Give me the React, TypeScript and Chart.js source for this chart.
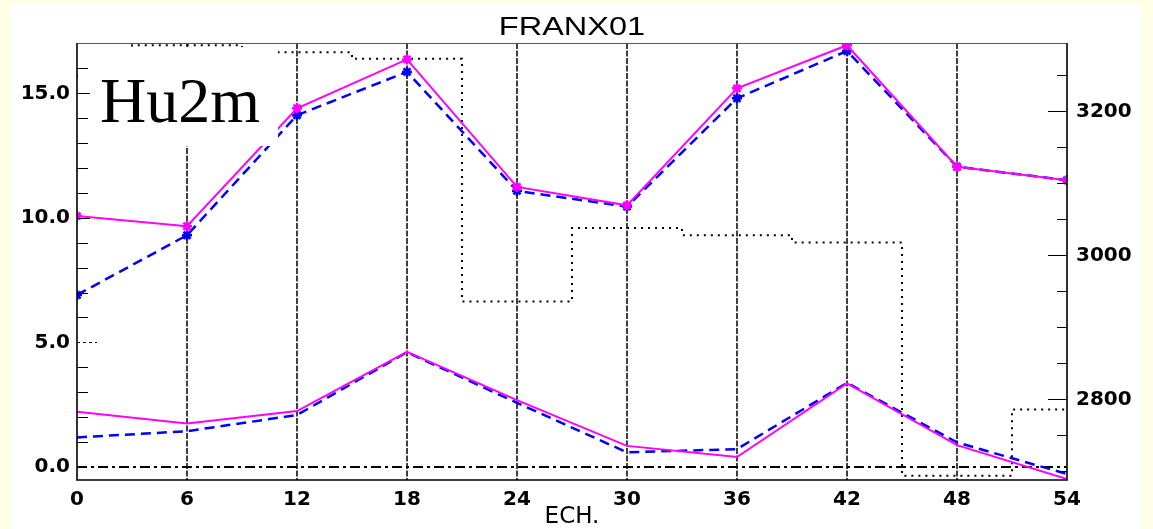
import React, { useEffect, useRef } from 'react';
import { Chart, registerables } from 'chart.js';
Chart.register(...registerables);

const TITLE = 'FRANX01';
const PARAM_LABEL = 'Hu2m';
const X_TITLE = 'ECH.';
const hours = [0, 6, 12, 18, 24, 30, 36, 42, 48, 54];
const upperMagenta = [10.07, 9.66, 14.4, 16.36, 11.24, 10.5, 15.2, 16.93, 12.05, 11.51];
const upperBlue = [6.9, 9.3, 14.12, 15.86, 11.08, 10.45, 14.8, 16.7, 12.05, 11.51];
const lowerMagenta = [2.21, 1.74, 2.24, 4.62, 2.68, 0.84, 0.39, 3.35, 0.87, -0.49];
const lowerBlue = [1.18, 1.43, 2.08, 4.6, 2.57, 0.58, 0.71, 3.37, 0.98, -0.29];
const altitude = [3250, 3292, 3282, 3273, 2936, 3038, 3028, 3018, 2694, 2786];
const leftMajor = [0, 5, 10, 15];
const rightMajor = [2800, 3000, 3200];

const MAGENTA = '#ff00ff';
const BLUE = '#0000ff';
const TICK_FONT = { family: '"DejaVu Sans"', size: 20, weight: 'bold' as const };

const pts = (ys: number[]) => hours.map((h, i) => ({ x: h, y: ys[i] }));

const decor = {
  id: 'decor',
  beforeDraw(chart: any) {
    const { ctx, width, height } = chart;
    ctx.save();
    ctx.fillStyle = '#ffffe6';
    ctx.fillRect(0, 0, width, height);
    ctx.fillStyle = '#ffffff';
    ctx.fillRect(10, 4, 1132, height - 4);
    ctx.restore();
  },
  beforeDatasetsDraw(chart: any) {
    const { ctx, chartArea: a, scales } = chart;
    ctx.save();
    ctx.strokeStyle = '#000';
    ctx.lineWidth = 1.5;
    ctx.setLineDash([6, 1.5]);
    hours.slice(1, -1).forEach((h) => {
      const x = Math.round(scales.x.getPixelForValue(h));
      ctx.beginPath();
      ctx.moveTo(x, a.top);
      ctx.lineTo(x, a.bottom);
      ctx.stroke();
    });
    const y0 = Math.round(scales.y.getPixelForValue(0));
    ctx.lineWidth = 2;
    ctx.setLineDash([10, 4, 3, 4]);
    ctx.beginPath();
    ctx.moveTo(a.left, y0);
    ctx.lineTo(a.right, y0);
    ctx.stroke();
    ctx.restore();
  },
  afterDatasetsDraw(chart: any) {
    const { ctx, chartArea: a, scales } = chart;
    ctx.save();
    // label box
    ctx.fillStyle = '#ffffff';
    ctx.fillRect(a.left + 1, 47, 200, 99);
    ctx.fillStyle = '#000';
    ctx.font = '64px "Liberation Serif"';
    ctx.textBaseline = 'alphabetic';
    ctx.textAlign = 'left';
    ctx.fillText(PARAM_LABEL, 100, 122);
    // left ticks
    ctx.strokeStyle = '#000';
    ctx.lineWidth = 1;
    for (let v = 1; v <= 17; v++) {
      const y = Math.round(scales.y.getPixelForValue(v)) + 0.5;
      const major = leftMajor.includes(v);
      if (v === 5) ctx.setLineDash([3, 3]);
      else ctx.setLineDash([]);
      ctx.beginPath();
      ctx.moveTo(a.left, y);
      ctx.lineTo(a.left + (v === 5 ? 20 : major ? 13 : 11), y);
      ctx.stroke();
    }
    ctx.setLineDash([]);
    // right ticks
    for (let v = 2700; v <= 3250; v += 50) {
      const y = Math.round(scales.y2.getPixelForValue(v)) + 0.5;
      const major = rightMajor.includes(v);
      ctx.beginPath();
      ctx.moveTo(a.right, y);
      ctx.lineTo(a.right - (major ? 19 : 10), y);
      ctx.stroke();
    }
    // frame
    ctx.strokeStyle = '#555';
    ctx.lineWidth = 1;
    ctx.beginPath();
    ctx.moveTo(a.left, a.top + 0.5);
    ctx.lineTo(a.right, a.top + 0.5);
    ctx.stroke();
    ctx.strokeStyle = '#000';
    ctx.lineWidth = 1.6;
    ctx.beginPath();
    ctx.moveTo(a.left, a.top);
    ctx.lineTo(a.left, a.bottom);
    ctx.lineTo(a.right, a.bottom);
    ctx.lineTo(a.right, a.top);
    ctx.stroke();
    ctx.restore();
  },
  afterDraw(chart: any) {
    const { ctx } = chart;
    ctx.save();
    ctx.fillStyle = '#000';
    ctx.font = '25px "Liberation Sans"';
    ctx.textAlign = 'center';
    ctx.textBaseline = 'middle';
    ctx.translate(572, 28);
    ctx.scale(1.3, 1);
    ctx.fillText(TITLE, 0, 0);
    ctx.restore();
  },
};

export default function App() {
  const ref = useRef<HTMLCanvasElement>(null);
  useEffect(() => {
    const canvas = ref.current!;
    const chart = new Chart(canvas, {
      type: 'line',
      data: {
        datasets: [
          {
            data: pts(upperMagenta), borderColor: MAGENTA, backgroundColor: MAGENTA,
            borderWidth: 2, pointStyle: 'star', pointRadius: 5, pointBorderWidth: 2.5,
            yAxisID: 'y', tension: 0,
          },
          {
            data: pts(lowerMagenta), borderColor: MAGENTA, backgroundColor: MAGENTA,
            borderWidth: 2, pointRadius: 0, yAxisID: 'y',
          },
          {
            data: pts(upperBlue), borderColor: BLUE, backgroundColor: BLUE,
            borderWidth: 2.5, borderDash: [10, 6], pointStyle: 'star', pointRadius: 5,
            pointBorderWidth: 2.5, yAxisID: 'y',
          },
          {
            data: pts(lowerBlue), borderColor: BLUE, backgroundColor: BLUE,
            borderWidth: 2.5, borderDash: [10, 6], pointRadius: 0, yAxisID: 'y',
          },
          {
            data: pts(altitude), borderColor: '#000', backgroundColor: '#000',
            borderWidth: 2, borderDash: [2, 5], pointRadius: 0, stepped: 'middle',
            yAxisID: 'y2',
          },
        ],
      },
      options: {
        animation: false,
        responsive: false,
        events: [],
        layout: { padding: { top: 43, left: 0, right: 0, bottom: 0 } },
        plugins: { legend: { display: false }, title: { display: false }, tooltip: { enabled: false } },
        scales: {
          x: {
            type: 'linear', min: 0, max: 54,
            grid: { display: false, drawTicks: false },
            border: { display: false },
            ticks: { stepSize: 6, color: '#000', font: TICK_FONT, padding: 8, autoSkip: false, maxRotation: 0 },
            title: { display: true, text: X_TITLE, color: '#000', font: { family: '"DejaVu Sans"', size: 23, lineHeight: 1 }, padding: { top: 0, bottom: 0 } },
            afterFit: (s: any) => { s.height = 49; },
          },
          y: {
            type: 'linear', position: 'left', min: -0.53, max: 17.02,
            grid: { display: false, drawTicks: false },
            border: { display: false },
            ticks: {
              stepSize: 1, autoSkip: false, includeBounds: false, color: '#000', font: TICK_FONT, padding: 7,
              callback: (v: any) => (leftMajor.includes(Number(v)) ? Number(v).toFixed(1) : ''),
            },
            afterFit: (s: any) => { s.width = 77; },
          },
          y2: {
            type: 'linear', position: 'right', min: 2688, max: 3295,
            grid: { display: false, drawTicks: false },
            border: { display: false },
            ticks: {
              stepSize: 50, autoSkip: false, includeBounds: false, color: '#000', font: TICK_FONT, padding: 9,
              callback: (v: any) => (rightMajor.includes(Number(v)) ? String(v) : ''),
            },
            afterFit: (s: any) => { s.width = 86; },
          },
        },
      },
      plugins: [decor],
    } as any);
    return () => chart.destroy();
  }, []);
  return (
    <div style={{ position: 'fixed', left: 0, top: 0, width: 1153, height: 529 }}>
      <canvas ref={ref} width={1153} height={529} style={{ display: 'block', width: 1153, height: 529 }} />
    </div>
  );
}
